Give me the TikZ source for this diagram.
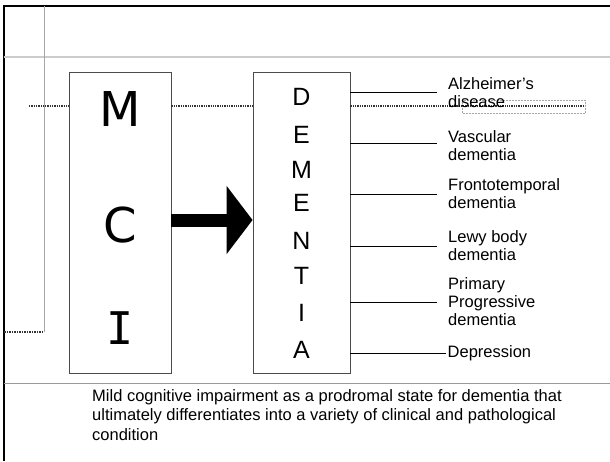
\documentclass[tikz,border=0pt]{standalone}
\usepackage{fontspec}
\setmainfont{Liberation Sans}
\newfontfamily\verdanalike{DejaVu Sans}
\newfontfamily\verdanamono{DejaVu Sans Mono}
\usetikzlibrary{arrows.meta,calc}

\begin{document}
\begin{tikzpicture}[x=1pt,y=-1pt,
  stage/.style={draw=black!70, line width=0.9pt, minimum width=#1,
    minimum height=301pt, inner sep=0pt},
  mciletter/.style={font=\verdanalike\fontsize{48}{48}\selectfont,
    inner sep=0pt, text height=35pt, text depth=0pt},
  demletter/.style={font=\fontsize{25}{25}\selectfont,
    inner sep=0pt, text height=18pt, text depth=0pt},
  spine/.style={black!80, densely dotted, line width=1.3pt},
  branch/.style={black, line width=0.9pt},
  outcome/.style={anchor=west, align=left, inner xsep=11pt, inner ysep=0pt,
    font=\fontsize{16.5}{18}\selectfont},
]
\useasboundingbox (0,0) rectangle (610,461);

% page frame and guide lines
\draw[line width=2.8pt] (4,461) -- (4,6) -- (610,6);
\draw[black!20, line width=1.5pt] (4,57) -- (610,57);
\draw[black!40, line width=0.9pt] (4,383) -- (610,383);
\draw[black!35, line width=0.6pt] (44,6) -- (44,332);
\draw[black!80, densely dotted, line width=1.5pt] (4,332) -- (44,332);

% the two stages
\node[stage=102pt] (mci) at (120,222.5) {};
\node[stage=97pt] (dem) at (301.5,222.5) {};

\node[mciletter] (lm) at (120,108.5) {M};
\node[mciletter] (lc) at (120,225) {C};
\node[mciletter, font=\verdanamono\fontsize{45}{45}\selectfont, text height=32pt] (li) at (120,328) {I};

\node[demletter] (d1) at (301.5,96) {D};
\node[demletter] (d2) at (301.5,134) {E};
\node[demletter] (d3) at (301.5,169) {M};
\node[demletter] (d4) at (301.5,202) {E};
\node[demletter] (d5) at (301.5,240) {N};
\node[demletter] (d6) at (301.5,275) {T};
\node[demletter] (d7) at (301.5,312) {I};
\node[demletter] (d8) at (301.5,349) {A};

% dotted spine through both stages
\coordinate (spineL) at (29,106);
\coordinate (spineR) at (585,106);
\draw[spine] (spineL) -- (mci.west |- spineL);
\draw[spine] (mci.east |- spineL) -- (dem.west |- spineL);
\draw[spine] (dem.east |- spineL) -- (spineR);
\draw[black!35, densely dotted, line width=0.5pt] (462,100) rectangle (585,113);

% progression arrow
\draw[line width=13pt, -{Triangle[length=26pt,width=67pt]}]
  ([yshift=2.5pt]mci.east) -- ([yshift=2.5pt]dem.west);

% outcomes
\node[outcome] (alz) at (437,93) {Alzheimer’s\\disease};
\node[outcome] (vas) at (437,146) {Vascular\\dementia};
\node[outcome] (fro) at (437,194) {Frontotemporal\\dementia};
\node[outcome] (lew) at (437,246) {Lewy body\\dementia};
\node[outcome] (ppa) at (437,302) {Primary\\Progressive\\dementia};
\node[outcome, inner xsep=1.5pt] (dep) at (446,353) {Depression};

\coordinate (alzend) at ([yshift=1pt]alz.west);
\coordinate (vasend) at ([yshift=3pt]vas.west);
\draw[branch] (dem.east |- alzend) -- (alzend);
\draw[branch] (dem.east |- vasend) -- (vasend);
\draw[branch] (dem.east |- fro.west) -- (fro.west);
\draw[branch] (dem.east |- lew.west) -- (lew.west);
\draw[branch] (dem.east |- ppa.west) -- (ppa.west);
\draw[branch] (dem.east |- dep.west) -- (dep.west);

% caption
\node[anchor=north west, align=left, inner sep=0pt,
  font=\fontsize{16.5}{19.5}\selectfont] (caption) at (92,389)
  {Mild cognitive impairment as a prodromal state for dementia that\\
   ultimately differentiates into a variety of clinical and pathological\\
   condition};
\end{tikzpicture}
\end{document}
